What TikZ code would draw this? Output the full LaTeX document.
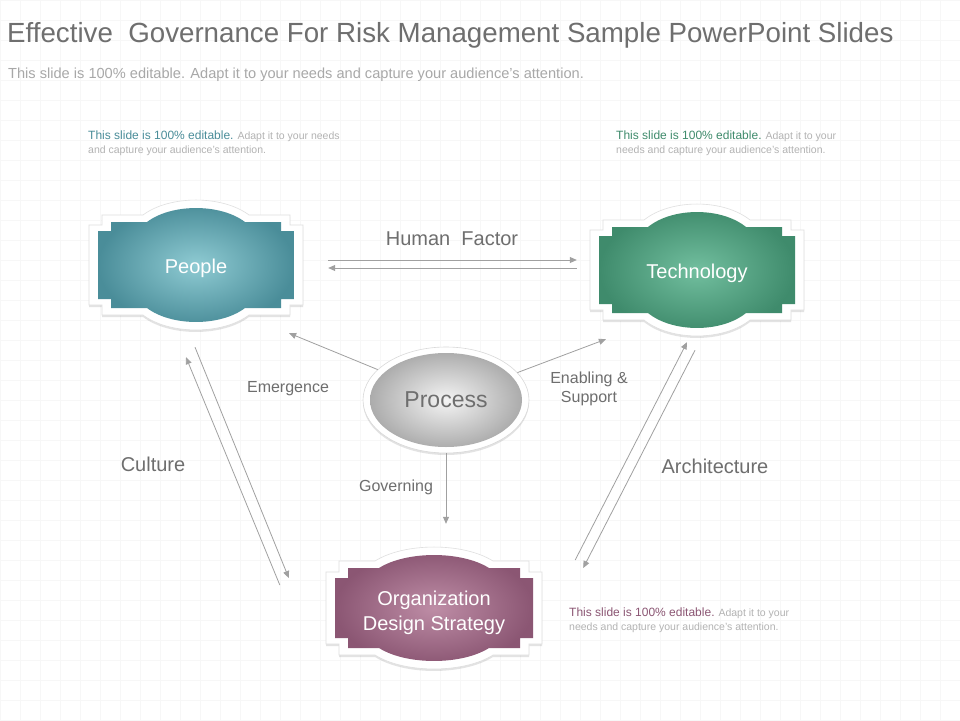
\documentclass[tikz,border=0pt]{standalone}
\usepackage{fontspec}
\setmainfont{Liberation Sans}
\usetikzlibrary{calc,shapes.geometric,shadows,arrows.meta}

\definecolor{titlegray}{HTML}{6F6F6F}
\definecolor{subgray}{HTML}{A8A8A8}
\definecolor{labelgray}{HTML}{6E6E6E}
\definecolor{arrowgray}{HTML}{A0A0A0}
\definecolor{notegray}{HTML}{B3B3B3}
\definecolor{peoplelight}{HTML}{8FCBD3}
\definecolor{peopledark}{HTML}{4A8D99}
\definecolor{techlight}{HTML}{72BF9F}
\definecolor{techdark}{HTML}{3F8B6C}
\definecolor{orglight}{HTML}{BE8DA6}
\definecolor{orgdark}{HTML}{8B5673}
\definecolor{processlight}{HTML}{F4F4F4}
\definecolor{processdark}{HTML}{A5A5A5}

% label plaque: body half width, body half height, ledge, ledge half height, arc half width, arc rise
\newcommand{\plaque}[6]{({-(#1)},{-(#2)}) -- ({-(#5)},{-(#2)})
  .. controls ({-0.5*(#5)},{-(#2)-1.33*(#6)}) and ({0.5*(#5)},{-(#2)-1.33*(#6)}) .. ({#5},{-(#2)})
  -- ({#1},{-(#2)}) -- ({#1},{-(#4)}) -- ({(#1)+(#3)},{-(#4)}) -- ({(#1)+(#3)},{#4})
  -- ({#1},{#4}) -- ({#1},{#2}) -- ({#5},{#2})
  .. controls ({0.5*(#5)},{(#2)+1.33*(#6)}) and ({-0.5*(#5)},{(#2)+1.33*(#6)}) .. ({-(#5)},{#2})
  -- ({-(#1)},{#2}) -- ({-(#1)},{#4}) -- ({-(#1)-(#3)},{#4}) -- ({-(#1)-(#3)},{-(#4)})
  -- ({-(#1)},{-(#4)}) -- cycle}

\newcommand{\drawplaque}[7]{%
  \begin{scope}[shift={#1}]
    \draw[plaquerim] \plaque{#2+9}{#3+7}{13}{#4+6}{#5+4}{#6+1};
    \shade[#7] \plaque{#2}{#3}{13}{#4}{#5}{#6};
  \end{scope}}

\tikzset{
  plaquerim/.style = {fill=white, draw=gray!25, line width=0.6pt,
    drop shadow={opacity=0.22, shadow xshift=0pt, shadow yshift=-2pt}},
  peopleshade/.style = {inner color=peoplelight, outer color=peopledark},
  techshade/.style = {inner color=techlight, outer color=techdark},
  orgshade/.style = {inner color=orglight, outer color=orgdark},
  plaquetext/.style = {text=white, align=center, inner sep=0pt,
    font=\fontsize{20pt}{25pt}\selectfont},
  processnode/.style = {ellipse, fill=white, draw=gray!30, line width=0.6pt,
    minimum width=166pt, minimum height=106pt, inner sep=0pt,
    drop shadow={opacity=0.22, shadow xshift=0pt, shadow yshift=-2pt},
    path picture={\shade[inner color=processlight, outer color=processdark]
      (path picture bounding box.center) ellipse [x radius=76pt, y radius=47pt];},
    text=labelgray, font=\fontsize{23pt}{28pt}\selectfont},
  flow/.style = {draw=arrowgray, line width=0.8pt, -{Triangle[length=7pt,width=6pt]}},
  biglabel/.style = {text=labelgray, font=\fontsize{20pt}{24pt}\selectfont},
  smalllabel/.style = {text=labelgray, align=center, font=\fontsize{16pt}{19pt}\selectfont},
  notetext/.style = {text=notegray, align=left, inner sep=0pt, anchor=north west,
    font=\fontsize{10.5pt}{14pt}\selectfont},
}

\begin{document}
\begin{tikzpicture}[x=1pt, y=-1pt]

\useasboundingbox (0,0) rectangle (960,720);
\fill[white] (0,0) rectangle (960,720);
\draw[gray!6, line width=0.5pt, step=20pt] (0,0) grid (960,720);

% heading
\node[text=titlegray, anchor=west, inner sep=0pt,
    font=\fontsize{27.7pt}{32pt}\selectfont] (title) at (7,35)
    {Effective~ Governance For Risk Management Sample PowerPoint Slides};
\node[text=subgray, anchor=west, inner sep=0pt,
    font=\fontsize{14.6pt}{17pt}\selectfont] (subtitle) at (8,75)
    {This slide is 100\% editable. Adapt it to your needs and capture your audience's attention.};

% plaques
\drawplaque{(196,265)}{85}{43}{34}{49}{14}{peopleshade}
\drawplaque{(697,270)}{85}{43}{34}{49}{15}{techshade}
\drawplaque{(434,608)}{86}{40}{30}{55}{13}{orgshade}

\node[plaquetext, minimum width=214pt, minimum height=130pt] (people) at (196,268) {People};
\node[plaquetext, minimum width=214pt, minimum height=132pt] (tech) at (697,273) {Technology};
\node[plaquetext, minimum width=216pt, minimum height=122pt] (org) at (434,613)
    {Organization\\Design Strategy};

\node[processnode] (process) at (446,400) {Process};

% connectors
\draw[flow] ($(people.east)+(25,-8)$) -- ($(tech.west)+(-13,-13)$);
\draw[flow] ($(tech.west)+(-13,-5)$) -- ($(people.east)+(25,0)$);
\draw[flow] (process.156) -- (people.-35);
\draw[flow] (process.21) -- (tech.-144);
\draw[flow] (process.south) -- ($(org.north)+(12,-28)$);
\draw[flow] ($(org.west)+(-46,-28)$) -- ($(people.south)+(-10,24)$);
\draw[flow] ($(people.south)+(-1,14)$) -- ($(org.west)+(-37,-35)$);
\draw[flow] ($(org.east)+(33,-53)$) -- ($(tech.south)+(-10,3)$);
\draw[flow] ($(tech.south)+(-2,11)$) -- ($(org.east)+(41,-45)$);

% connector labels
\node[biglabel] (human) at (452,239) {Human~ Factor};
\node[smalllabel] (emergence) at (288,389) {Emergence};
\node[smalllabel] (enabling) at (589,389) {Enabling \&\\Support};
\node[smalllabel] (governing) at (396,487) {Governing};
\node[biglabel] (culture) at (153,464) {Culture};
\node[biglabel] (architecture) at (715,466) {Architecture};

% notes
\node[notetext] (noteleft) at (88,131)
    {{\color{peopledark}\fontsize{12pt}{14pt}\selectfont This slide is 100\% editable.} Adapt it to your needs\\
     and capture your audience's attention.};
\node[notetext] (noteright) at (616,131)
    {{\color{techdark}\fontsize{12pt}{14pt}\selectfont This slide is 100\% editable.} Adapt it to your\\
     needs and capture your audience's attention.};
\node[notetext] (notebottom) at (569,608)
    {{\color{orgdark}\fontsize{12pt}{14pt}\selectfont This slide is 100\% editable.} Adapt it to your\\
     needs and capture your audience's attention.};

\end{tikzpicture}
\end{document}
